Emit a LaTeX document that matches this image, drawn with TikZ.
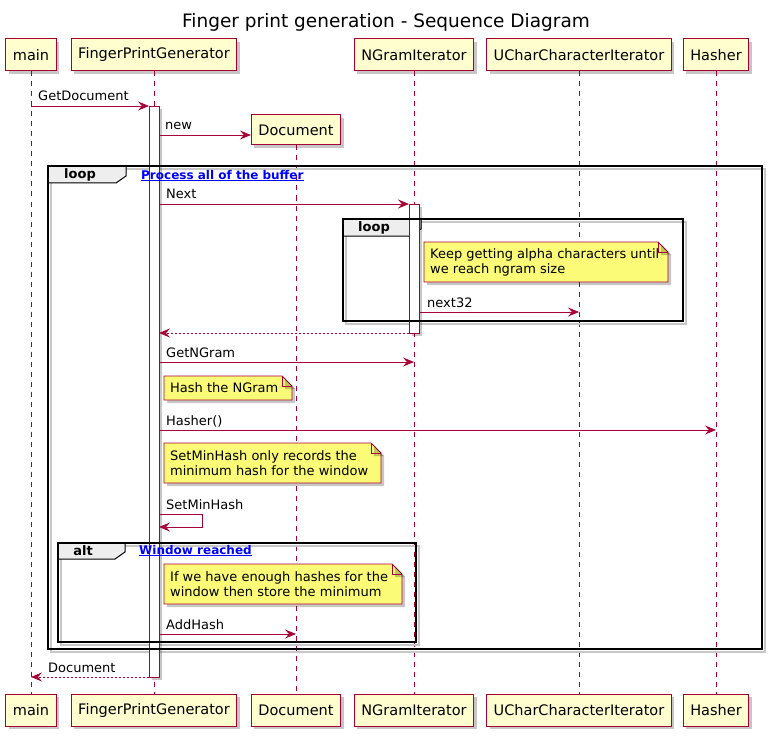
\documentclass[tikz,border=0pt]{standalone}
\usepackage{fontspec}
\setmainfont{DejaVu Sans}
\usepackage{xcolor}
\usepackage{tikz}
\usetikzlibrary{arrows.meta,shadows}
\definecolor{Crimson}{HTML}{A80036}
\definecolor{PartFill}{HTML}{FEFECE}
\definecolor{NoteFill}{HTML}{FBFB77}
\definecolor{TabFill}{HTML}{EEEEEE}
\definecolor{LinkBlue}{HTML}{0000FF}
% note with folded corner: name, x1, y1, x2, y2, text
\newcommand{\umlnote}[6]{%
  \filldraw[notebox] (#2,#3) -- (#4-10,#3) -- (#4,#3+10) -- (#4,#5) -- (#2,#5) -- cycle;
  \draw[notebox,fill=none,drop shadow={opacity=0}] (#4-10,#3) -- (#4-10,#3+10) -- (#4,#3+10);
  \node[notetext] (#1) at (#2+6,{(#3+#5)/2}) {#6};}

\begin{document}
\begin{tikzpicture}[
  x=1pt,y=-1pt,
  font=\fontsize{13}{15}\selectfont,
  softshadow/.style={drop shadow={shadow xshift=3pt,shadow yshift=-3pt,fill=black,opacity=0.22}},
  participant/.style={draw=Crimson,fill=PartFill,line width=1pt,minimum height=32pt,inner xsep=7pt,font=\fontsize{14.5}{17}\selectfont,softshadow},
  lifeline/.style={Crimson,dash pattern=on 5pt off 5pt,line width=0.8pt},
  actbar/.style={draw=Crimson,fill=white,line width=0.8pt,softshadow},
  msg/.style={-{Stealth[length=11pt,width=9pt,inset=4pt]},Crimson,line width=0.8pt},
  reply/.style={msg,dash pattern=on 2pt off 2pt},
  msglabel/.style={anchor=base west,inner sep=0pt},
  frame/.style={draw=black,line width=1.6pt},
  frameshadow/.style={draw=black!22,line width=2pt,xshift=3pt,yshift=-3pt},
  frametab/.style={draw=black,fill=TabFill,line width=1pt},
  framelabel/.style={font=\fontsize{13}{15}\selectfont\bfseries},
  guard/.style={LinkBlue,font=\fontsize{12}{14}\selectfont\bfseries,anchor=base west,inner sep=0pt},
  notebox/.style={draw=Crimson,fill=NoteFill,line width=0.8pt,softshadow},
  notetext/.style={align=left,inner sep=0pt,anchor=west}
]
\useasboundingbox (0,0) rectangle (773,738);
\node[font=\fontsize{18.5}{22}\selectfont] (title) at (386,22) {Finger print generation - Sequence Diagram};

% participants
\node[participant] (mainT) at (31,55) {main};
\node[participant] (fpgT) at (154,55) {FingerPrintGenerator};
\node[participant] (ngramT) at (414,55) {NGramIterator};
\node[participant] (ucharT) at (579,55) {UCharCharacterIterator};
\node[participant] (hasherT) at (716,55) {Hasher};
\node[participant,minimum height=30pt] (docT) at (296,130) {Document};

\node[participant] (mainB) at (31,710) {main};
\node[participant] (fpgB) at (154,710) {FingerPrintGenerator};
\node[participant] (docB) at (296,710) {Document};
\node[participant] (ngramB) at (414,710) {NGramIterator};
\node[participant] (ucharB) at (579,710) {UCharCharacterIterator};
\node[participant] (hasherB) at (716,710) {Hasher};

\foreach \p in {main,fpg,doc,ngram,uchar,hasher}
  \draw[lifeline] (\p T.south) -- (\p B.north);

% frame shadows and tabs
\draw[frameshadow] (48,166) rectangle (762,649);
\draw[frameshadow] (343,219) rectangle (683,321);
\draw[frameshadow] (58,543) rectangle (416,642);
\draw[frametab] (48,166) -- (126,166) -- (126,176) -- (116,183) -- (48,183) -- cycle;
\draw[frametab] (343,219) -- (421,219) -- (421,229) -- (411,236) -- (343,236) -- cycle;
\draw[frametab] (58,543) -- (125,543) -- (125,552) -- (115,559) -- (58,559) -- cycle;

% activations
\draw[actbar] (149,106) rectangle (159,677);
\draw[actbar] (409,204) rectangle (419,333);

% frames
\draw[frame] (48,166) rectangle (762,649);
\node[framelabel] (outerLoop) at (80,175) {loop};
\node[guard] (outerGuard) at (141,179) {\underline{Process all of the buffer}};

\draw[frame] (343,219) rectangle (683,321);
\node[framelabel] (innerLoop) at (374,228) {loop};

\draw[frame] (58,543) rectangle (416,642);
\node[framelabel] (altFrame) at (83,551) {alt};
\node[guard] (altGuard) at (139,554) {\underline{Window reached}};

% notes
\umlnote{alphaNote}{424}{242}{668}{282}{Keep getting alpha characters until\\we reach ngram size}
\umlnote{hashNote}{164}{376}{292}{400}{Hash the NGram}
\umlnote{minNote}{164}{443}{381}{483}{SetMinHash only records the\\minimum hash for the window}
\umlnote{windowNote}{164}{564}{402}{604}{If we have enough hashes for the\\window then store the minimum}

% messages
\coordinate (mainGet) at (31,106);
\coordinate (fpgGet) at (149,106);
\draw[msg] (mainGet) -- (fpgGet);
\node[msglabel] (getLabel) at (38,101) {GetDocument};

\coordinate (fpgNew) at (159,135);
\draw[msg] (fpgNew) -- (fpgNew -| docT.west);
\node[msglabel] (newLabel) at (165,130) {new};

\coordinate (fpgNext) at (159,204);
\coordinate (ngramNext) at (409,204);
\draw[msg] (fpgNext) -- (ngramNext);
\node[msglabel] (nextLabel) at (166,199) {Next};

\coordinate (ngramN32) at (419,312);
\draw[msg] (ngramN32) -- (ngramN32 -| ucharT);
\node[msglabel] (n32Label) at (427,307) {next32};

\coordinate (ngramRet) at (409,333);
\coordinate (fpgRet) at (159,333);
\draw[reply] (ngramRet) -- (fpgRet);

\coordinate (fpgGetN) at (159,362);
\draw[msg] (fpgGetN) -- (fpgGetN -| ngramT);
\node[msglabel] (getNLabel) at (166,357) {GetNGram};

\coordinate (fpgHash) at (159,430);
\draw[msg] (fpgHash) -- (fpgHash -| hasherT);
\node[msglabel] (hashLabel) at (166,425) {Hasher()};

\coordinate (fpgSelf) at (159,514);
\draw[msg] (fpgSelf) -- ++(43,0) -- ++(0,13) -- ++(-43,0);
\node[msglabel] (selfLabel) at (166,509) {SetMinHash};

\coordinate (fpgAdd) at (159,634);
\draw[msg] (fpgAdd) -- (fpgAdd -| docT);
\node[msglabel] (addLabel) at (166,629) {AddHash};

\coordinate (fpgEnd) at (149,677);
\draw[reply] (fpgEnd) -- (fpgEnd -| mainT);
\node[msglabel] (endLabel) at (48,672) {Document};
\end{tikzpicture}
\end{document}
